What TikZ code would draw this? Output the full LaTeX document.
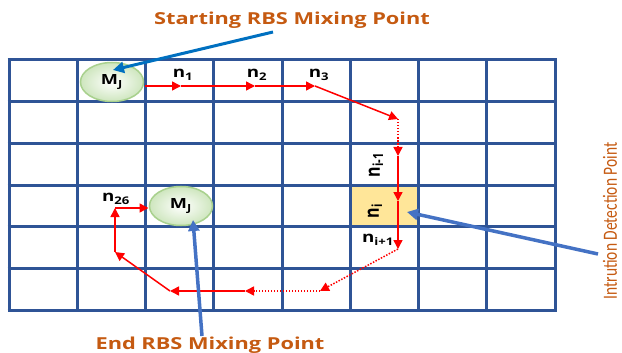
\documentclass[tikz,border=0pt]{standalone}
\usepackage{fontspec}
\setmainfont{Open Sans}
\newfontfamily\calibfont{Carlito}
\usetikzlibrary{arrows.meta,shapes.geometric}
\definecolor{gridblue}{RGB}{47,84,150}
\definecolor{pathred}{RGB}{255,0,0}
\definecolor{titleorange}{RGB}{197,90,17}
\definecolor{startblue}{RGB}{0,112,192}
\definecolor{pointblue}{RGB}{68,114,196}
\definecolor{cellyellow}{RGB}{255,230,153}
\definecolor{mixgreen}{RGB}{169,209,142}
\definecolor{mixfill}{RGB}{206,230,190}
\tikzset{
  gridline/.style={draw=gridblue, line width=3pt},
  redarrow/.style={draw=pathred, line width=1.5pt, -{Triangle[length=9pt,width=9pt]}},
  reddotted/.style={redarrow, dash pattern=on 1.5pt off 1.5pt},
  mixnode/.style={ellipse, draw=mixgreen, line width=1.5pt, xscale=1.3, minimum width=48.5pt, minimum height=39pt,
    inner color=white, outer color=mixfill, font=\fontsize{14}{14}\selectfont\bfseries},
  nlabel/.style={font=\fontsize{15}{15}\selectfont\bfseries, xscale=1.25, inner sep=0pt},
  rlabel/.style={font=\fontsize{16}{16}\selectfont\bfseries, xscale=1.25, rotate=90, inner sep=0pt},
  titletext/.style={text=titleorange, font=\fontsize{16.5}{16.5}\selectfont\bfseries, xscale=1.32, inner sep=0pt},
  pointer/.style={line width=3.5pt, -{Triangle[length=11pt,width=11pt]}},
}
\begin{document}
\begin{tikzpicture}[x=1pt,y=1pt]
\useasboundingbox (0,0) rectangle (622,-353);
% highlighted cell
\fill[cellyellow] (350,-187) rectangle (418,-228);
% grid
\foreach \i in {0,...,8} \draw[gridline] ({9+\i*68.25},-60) -- ({9+\i*68.25},-310);
\foreach \j in {0,...,6} \draw[gridline] (7.5,{-60-\j*41.667}) -- (556.5,{-60-\j*41.667});
% mixing points
\node[mixnode] (m1) at (112,-82) {M\textsubscript{J}};
\node[mixnode] (m2) at (181,-206) {M\textsubscript{J}};
% path coordinates
\coordinate (a1) at (181,-86);
\coordinate (a2) at (255,-86);
\coordinate (a3) at (315,-86);
\coordinate (d1) at (398,-119);
\coordinate (d2) at (398,-156);
\coordinate (d3) at (398,-201);
\coordinate (d4) at (398,-249);
\coordinate (d5) at (320,-291);
\coordinate (d6) at (245,-291);
\coordinate (d7) at (170,-291);
\coordinate (d8) at (115,-252);
\coordinate (d9) at (115,-208);
\draw[redarrow] (m1.east |- a1) -- (a1);
\draw[redarrow] (a1) -- (a2);
\draw[redarrow] (a2) -- (a3);
\draw[redarrow] (a3) -- (d1);
\draw[reddotted] (d1) -- (d2);
\draw[redarrow] (d2) -- (d3);
\draw[redarrow] (d3) -- (d4);
\draw[reddotted] (d4) -- (d5);
\draw[reddotted] (d5) -- (d6);
\draw[redarrow] (d6) -- (d7);
\draw[redarrow] (d7) -- (d8);
\draw[redarrow] (d8) -- (d9);
\draw[redarrow] (d9) -- (m2.west |- d9);
% labels
\node[nlabel] (l1) at (183,-75) {n\textsubscript{1}};
\node[nlabel] (l2) at (257,-75) {n\textsubscript{2}};
\node[nlabel] (l3) at (319,-75) {n\textsubscript{3}};
\node[nlabel] (l26) at (116,-199) {n\textsubscript{26}};
\node[nlabel] (lip) at (378,-240) {n\textsubscript{i+1}};
\node[rlabel] (lim) at (376,-165) {n\textsubscript{i-1}};
\node[rlabel] (li) at (375,-211) {n\textsubscript{i}};
% titles
\node[titletext] (ts) at (292,-20) {Starting RBS Mixing Point};
\node[titletext] (te) at (210,-345) {End RBS Mixing Point};
\node[text=titleorange, font=\calibfont\fontsize{15.5}{15.5}\selectfont, xscale=1.3, rotate=90, inner sep=0pt] (ti) at (610,-221) {Intrution Detection Point};
% pointers
\coordinate (sp) at (273,-32);
\coordinate (st) at (113,-70);
\draw[pointer, draw=startblue, fill=startblue, line width=3pt] (sp) -- (st);
\coordinate (ip) at (598,-254);
\coordinate (it) at (407,-212);
\draw[pointer, draw=pointblue, fill=pointblue] (ip) -- (it);
\coordinate (ep) at (202,-336);
\coordinate (et) at (193,-220);
\draw[pointer, draw=pointblue, fill=pointblue] (ep) -- (et);
\end{tikzpicture}
\end{document}
